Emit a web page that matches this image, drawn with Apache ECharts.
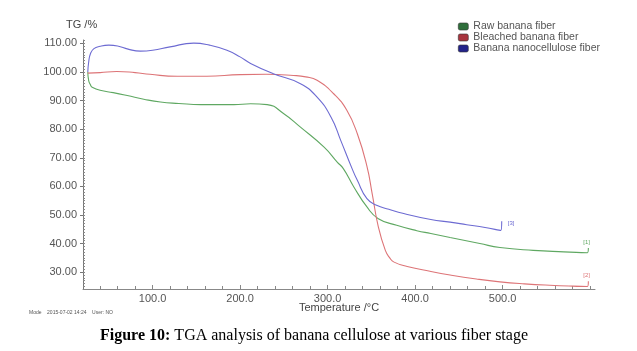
<!DOCTYPE html>
<html>
<head>
<meta charset="utf-8">
<script src="https://cdn.jsdelivr.net/npm/echarts@6/dist/echarts.min.js"></script>
<style>
	html, body { margin: 0; padding: 0; background: #fff; }
	#chart { width: 637px; height: 351px; }
</style>
</head>
<body>
<div id="chart"></div>
<script>
// 图例名称
var seriesNames = ['Raw banana fiber', 'Bleached banana fiber', 'Banana nanocellulose fiber']
var endTags = ['[1]', '[2]', '[3]']

// [温度 °C, TG %]
var rawFiber = [
	[26, 100], [27, 97], [29, 95.5], [31, 94.7], [40, 93.6], [55, 92.8], [71, 91.8],
	[90, 90.5], [109, 89.5], [130, 89], [155, 88.6], [193, 88.6], [212, 88.9],
	[231, 88.6], [250, 85.4], [269, 80.7], [296, 73.7], [311, 68.5], [318, 66.2],
	[330, 59.8], [345, 52.8], [358, 48.7], [379, 46.4], [402, 44.5], [418, 43.5],
	[440, 42.1], [474, 40], [497, 38.6], [535, 37.6], [570, 37.1], [597, 36.8],
	[598, 38.4]
]
var bleachedFiber = [
	[26, 99.6], [40, 99.8], [59, 100.2], [80, 99.8], [97, 99.2], [128, 98.5],
	[162, 98.5], [200, 99.1], [230, 99.2], [261, 98.8], [275, 98.3], [288, 97.1],
	[307, 92.4], [322, 86.6], [334, 78.4], [345, 67], [351, 57.4], [358, 45.8],
	[366, 37.6], [371, 35], [376, 33.5], [391, 32], [417, 30.3], [440, 29],
	[470, 27.6], [497, 26.6], [525, 25.9], [554, 25.4], [580, 25.1], [597, 25],
	[598, 26.8]
]
var nanoFiber = [
	[26, 100], [27, 103.5], [29, 106.4], [33, 108.2], [40, 109], [50, 109.4],
	[60, 109.1], [72, 108], [86, 107.3], [100, 107.6], [120, 108.8], [147, 110.1],
	[165, 109.4], [185, 107.6], [200, 105.3], [212, 103], [238, 99.4], [269, 95.9],
	[288, 91.2], [304, 84.2], [315, 76.1], [328, 66.2], [334, 62.1], [345, 55.7],
	[356, 53.4], [370, 52], [387, 50.5], [418, 48.4], [440, 47.5], [459, 46.6],
	[480, 45.6], [498, 44.6], [499, 47.8]
]

// 刻度
var xTicks = [100, 200, 300, 400, 500]
var yTicks = [30, 40, 50, 60, 70, 80, 90, 100, 110]
var xRange = [20.5, 605.6]
var yRange = [24.1, 111.2]

var lineColors = ['#5fa862', '#dd7477', '#6d6bd2']
var iconColors = ['#2e6e3a', '#a8343e', '#23238a']

function _minorTicks(from, to, step) {
	var arr = []
	for (var v = from; v <= to; v += step) arr.push(v)
	return arr
}

function _chartTGA(id) {
	var dom = document.getElementById(id)
	if (!dom) return
	var allData = [rawFiber, bleachedFiber, nanoFiber]
	var tagOffsets = [[-13, -6], [-13, -6], [-2, 2]]
	var series = []
	for (var i = 0; i < allData.length; i++) {
		series.push({
			name: seriesNames[i],
			type: 'line',
			data: allData[i],
			showSymbol: false,
			smooth: 0.5,
			xAxisIndex: 0,
			yAxisIndex: 0,
			itemStyle: { color: iconColors[i] },
			lineStyle: { color: lineColors[i], width: 1.1 },
			endLabel: {
				show: true,
				formatter: endTags[i],
				color: lineColors[i],
				fontSize: 6,
				fontFamily: 'Liberation Sans',
				offset: tagOffsets[i]
			}
		})
	}
	var axisText = { color: '#555', fontSize: 11, fontFamily: 'Liberation Sans' }
	var option = {
		backgroundColor: '#fff',
		animation: false,
		grid: { left: 83, right: 42, top: 40, bottom: 62 },
		legend: {
			orient: 'vertical',
			left: 453,
			top: 16,
			itemWidth: 10,
			itemHeight: 7,
			itemGap: 0,
			icon: 'roundRect',
			textStyle: { color: '#555', fontSize: 10.5, lineHeight: 11, fontFamily: 'Liberation Sans' },
			data: seriesNames.map(function(n, k) {
				return { name: n, itemStyle: { color: iconColors[k], borderColor: '#333', borderWidth: 0.6 } }
			})
		},
		xAxis: [
			{
				type: 'value',
				min: xRange[0],
				max: xRange[1],
				splitLine: { show: false },
				axisLine: { lineStyle: { color: '#888', width: 1 } },
				axisTick: { inside: true, length: 4, customValues: xTicks, lineStyle: { color: '#888' } },
				axisLabel: {
					customValues: xTicks,
					margin: 4,
					color: axisText.color,
					fontSize: axisText.fontSize,
					fontFamily: axisText.fontFamily,
					formatter: function(v) { return v.toFixed(1) }
				}
			},
			{
				type: 'value',
				position: 'bottom',
				min: xRange[0],
				max: xRange[1],
				splitLine: { show: false },
				axisLine: { show: false },
				axisLabel: { show: false },
				axisTick: { inside: true, length: 3, customValues: _minorTicks(40, 600, 20), lineStyle: { color: '#888' } }
			}
		],
		yAxis: [
			{
				type: 'value',
				min: yRange[0],
				max: yRange[1],
				splitLine: { show: false },
				axisLine: { show: true, lineStyle: { color: '#777', width: 1 } },
				axisTick: { length: 3, customValues: yTicks, lineStyle: { color: '#777' } },
				axisLabel: {
					customValues: yTicks,
					margin: 6,
					color: axisText.color,
					fontSize: axisText.fontSize,
					fontFamily: axisText.fontFamily,
					formatter: function(v) { return v.toFixed(2) }
				}
			},
			{
				type: 'value',
				position: 'left',
				min: yRange[0],
				max: yRange[1],
				splitLine: { show: false },
				axisLine: { show: false },
				axisLabel: { show: false },
				axisTick: { inside: true, length: 2, customValues: _minorTicks(25, 111, 1), lineStyle: { color: '#888' } }
			}
		],
		graphic: [
			{
				type: 'text', left: 66, top: 19,
				style: { text: 'TG /%', fill: '#444', fontSize: 11, fontFamily: 'Liberation Sans' }
			},
			{
				type: 'text', x: 339, y: 307.5,
				style: { text: 'Temperature /°C', fill: '#444', fontSize: 11, fontFamily: 'Liberation Sans', align: 'center', verticalAlign: 'middle' }
			},
			{
				type: 'text', x: 29, y: 313,
				style: { text: 'Mode    2015-07-02 14:24    User: NO', fill: '#555', fontSize: 5, fontFamily: 'Liberation Sans', verticalAlign: 'middle' }
			},
			{
				type: 'text', x: 314, y: 336,
				style: {
					text: '{b|Figure 10:} TGA analysis of banana cellulose at various fiber stage',
					align: 'center',
					verticalAlign: 'middle',
					fill: '#000',
					fontSize: 16,
					fontFamily: 'Liberation Serif',
					rich: {
						b: { fontWeight: 'bold', fontSize: 16, fontFamily: 'Liberation Serif', fill: '#000' }
					}
				}
			}
		],
		series: series
	}
	var myChart = echarts.init(dom)
	myChart.setOption(option)
	return myChart
}

_chartTGA('chart')
</script>
</body>
</html>
